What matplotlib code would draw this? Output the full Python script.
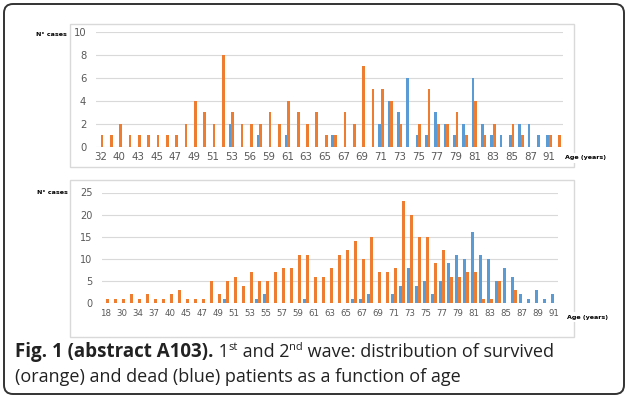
import numpy as np
import matplotlib.pyplot as plt
from matplotlib.patches import FancyBboxPatch, Rectangle
from matplotlib.transforms import IdentityTransform

# 1st wave (top chart)
ages1 = [32, 38, 40, 42, 43, 44, 45, 46, 47, 48,
         49, 50, 51, 52, 53, 55, 56, 58, 59, 60,
         61, 62, 63, 64, 65, 66, 67, 68, 69, 70,
         71, 72, 73, 74, 75, 76, 77, 78, 79, 80,
         81, 82, 83, 84, 85, 86, 87, 89, 91, 92]
survived1 = [1, 1, 2, 1, 1, 1, 1, 1, 1, 2,
             4, 3, 2, 8, 3, 2, 2, 2, 3, 2,
             4, 3, 2, 3, 1, 1, 3, 2, 7, 5,
             5, 4, 2, 0, 2, 5, 2, 2, 3, 1,
             4, 1, 2, 0, 2, 1, 0, 0, 1, 1]
dead1 = [0, 0, 0, 0, 0, 0, 0, 0, 0, 0,
         0, 0, 0, 0, 2, 0, 0, 1, 0, 0,
         1, 0, 0, 0, 0, 1, 0, 0, 0, 0,
         2, 4, 3, 6, 1, 1, 3, 2, 1, 2,
         6, 2, 1, 1, 1, 2, 2, 1, 1, 0]

# 2nd wave (bottom chart)
ages2 = [18, 26, 30, 32, 34, 36, 37, 39, 40, 43,
         45, 46, 47, 48, 49, 50, 51, 52, 53, 54,
         55, 56, 57, 58, 59, 60, 61, 62, 63, 64,
         65, 66, 67, 68, 69, 70, 71, 72, 73, 74,
         75, 76, 77, 78, 79, 80, 81, 82, 83, 84,
         85, 86, 87, 88, 89, 90, 91]
survived2 = [1, 1, 1, 2, 1, 2, 1, 1, 2, 3,
             1, 1, 1, 5, 2, 5, 6, 4, 7, 5,
             5, 7, 8, 8, 11, 11, 6, 6, 8, 11,
             12, 14, 10, 15, 7, 7, 8, 23, 20, 15,
             15, 9, 12, 6, 6, 7, 7, 1, 1, 5,
             0, 3, 0, 0, 0, 0, 0]
dead2 = [0, 0, 0, 0, 0, 0, 0, 0, 0, 0,
         0, 0, 0, 0, 0, 1, 0, 0, 0, 1,
         2, 0, 0, 0, 0, 1, 0, 0, 0, 0,
         0, 1, 1, 2, 0, 0, 2, 4, 8, 4,
         5, 2, 5, 9, 11, 10, 16, 11, 10, 5,
         8, 6, 2, 1, 3, 1, 2]

ORANGE = '#ED7D31'
BLUE = '#5B9BD5'
GRAY = '#595959'
GRID = '#D9D9D9'

W, H = 628, 397
fig = plt.figure(figsize=(W / 100, H / 100), dpi=100)


def px_axes(l, t, r, b):
    return fig.add_axes([l / W, 1 - b / H, (r - l) / W, (b - t) / H])


def chart(ax, ages, dead, surv, ymax, ystep, width, fs, yfs):
    x = np.arange(len(ages))
    ax.bar(x - width / 2, dead, width, color=BLUE, zorder=3)
    ax.bar(x + width / 2, surv, width, color=ORANGE, zorder=3)
    ax.set_xlim(-0.5, len(ages) - 0.5)
    ax.set_ylim(0, ymax)
    ax.set_yticks(np.arange(0, ymax + 1, ystep))
    ax.set_xticks(x[::2])
    ax.set_xticklabels([str(a) for a in ages[::2]])
    ax.grid(axis='y', color=GRID, lw=0.8, zorder=0)
    ax.tick_params(length=0, colors=GRAY, pad=4)
    ax.tick_params(axis='x', labelsize=fs)
    ax.tick_params(axis='y', labelsize=yfs, pad=7)
    for s in ax.spines.values():
        s.set_visible(False)
    ax.set_facecolor('none')


# chart frames
for (l, t, r, b) in [(70, 24, 574, 167), (70, 180, 574, 337)]:
    fig.patches.append(Rectangle((l, H - b), r - l, b - t, transform=IdentityTransform(),
                                 fill=False, ec='#D9D9D9', lw=1))

ax1 = px_axes(96, 31.7, 563, 146.7)
chart(ax1, ages1, dead1, survived1, 10, 2, 0.29, 7.4, 7.2)
ax2 = px_axes(102, 192.5, 558, 303.3)
chart(ax2, ages2, dead2, survived2, 25, 5, 0.36, 6.2, 7.0)

small = dict(fontsize=4.6, fontweight='bold', color='black', family='DejaVu Sans')
fig.text(36 / W, 1 - 35 / H, 'N° cases', va='center', ha='left', **small)
fig.text(37 / W, 1 - 193 / H, 'N° cases', va='center', ha='left', **small)
fig.text(565 / W, 1 - 158 / H, 'Age (years)', va='center', ha='left',
         bbox=dict(fc='white', ec='none', pad=2), **small)
fig.text(567 / W, 1 - 317 / H, 'Age (years)', va='center', ha='left',
         bbox=dict(fc='white', ec='none', pad=2), **small)

# outer rounded border
fig.patches.append(FancyBboxPatch((4, 3), 620, 390, boxstyle='round,pad=0,rounding_size=9',
                                  transform=IdentityTransform(), fill=False,
                                  ec='#333333', lw=1.4))

# caption, assembled piece by piece
renderer = fig.canvas.get_renderer()
cap_color = '#222222'


def caption_line(pieces, x0, ybase):
    x = x0
    for txt, kind in pieces:
        size = {'bold': 13.5, 'sup': 8.0}.get(kind, 12.95)
        y = ybase - 7 if kind == 'sup' else ybase
        t = fig.text(x / W, 1 - y / H, txt, fontsize=size, va='baseline', ha='left',
                     family='Open Sans', color=cap_color,
                     fontweight='bold' if kind == 'bold' else 'normal')
        x += t.get_window_extent(renderer).width


caption_line([('Fig. 1 (abstract A103).', 'bold'), (' 1', 'n'), ('st', 'sup'),
              (' and 2', 'n'), ('nd', 'sup'), (' wave: distribution of survived', 'n')],
             15, 357)
caption_line([('(orange) and dead (blue) patients as a function of age', 'n')], 15, 382)

fig.savefig('out.png', dpi=100)
